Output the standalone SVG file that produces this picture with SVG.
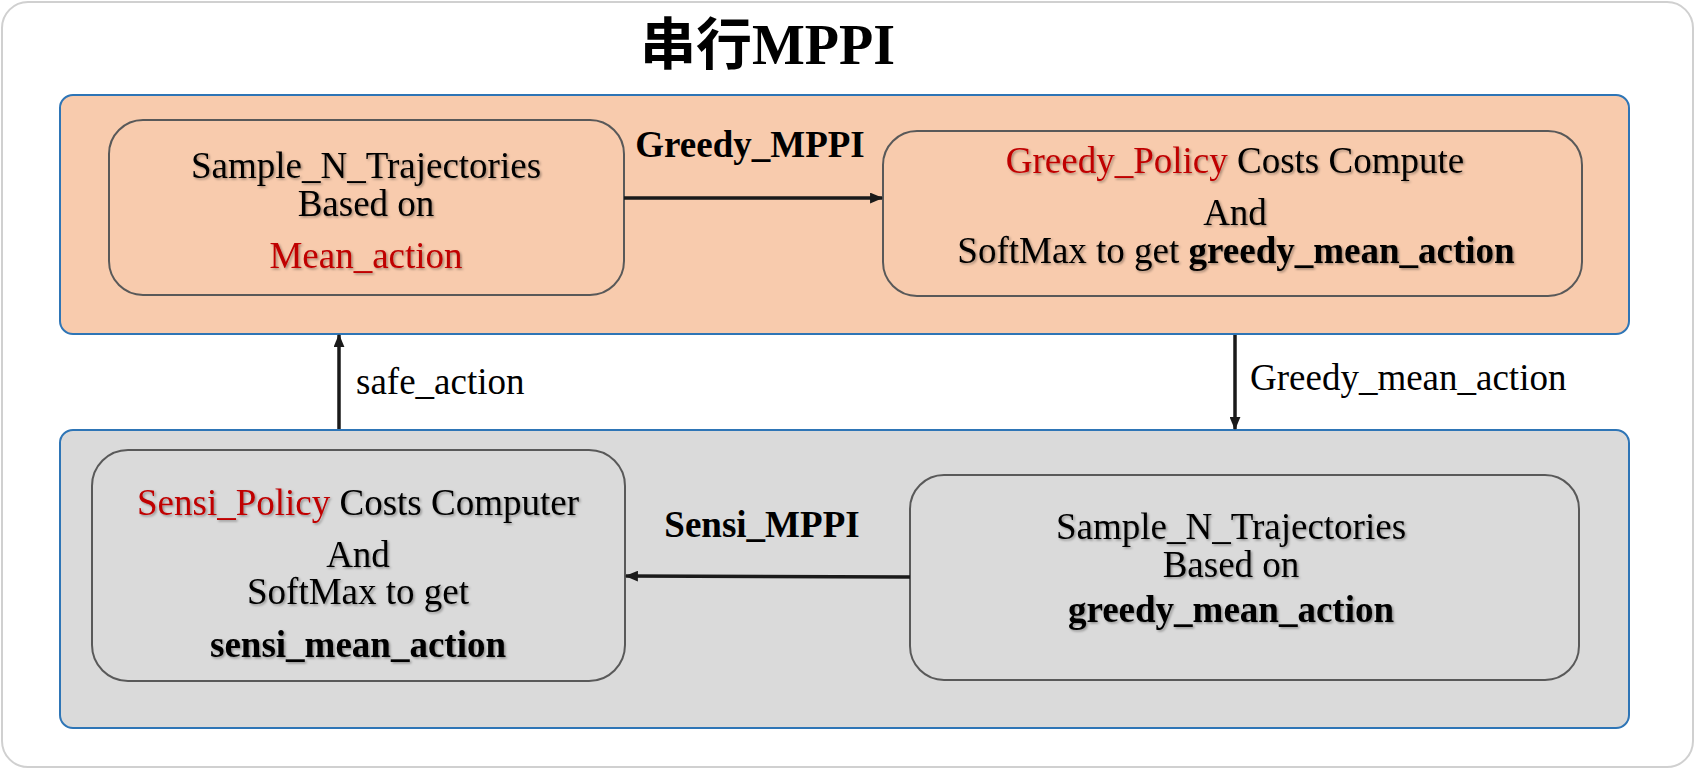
<svg xmlns="http://www.w3.org/2000/svg" width="1696" height="769" viewBox="0 0 1696 769">
<style>
.t{font-family:"Liberation Serif","Times New Roman",serif;font-size:37px;fill:#000;text-anchor:middle}
.b{font-weight:bold}
.r{fill:#c00000}
.lbl{font-family:"Liberation Serif","Times New Roman",serif;font-size:37px;fill:#000}
.node{stroke:#595959;stroke-width:2}
.cont{stroke:#2e75b6;stroke-width:2}
.conn{stroke:#1a1a1a;stroke-width:3.5;fill:none}
</style>
<defs>
<filter id="sh" x="-5%" y="-20%" width="110%" height="140%">
<feDropShadow dx="1.5" dy="1.5" stdDeviation="1" flood-color="#000" flood-opacity="0.35"/>
</filter>
<marker id="ah" viewBox="0 0 12 10" refX="11" refY="5" markerWidth="13" markerHeight="11" markerUnits="userSpaceOnUse" orient="auto">
<path d="M0,0 L12,5 L0,10 Z" fill="#1a1a1a"/>
</marker>
</defs>
<rect x="2" y="2" width="1691" height="765" rx="26" fill="#fff" stroke="#d0d0d0" stroke-width="2"/>
<text x="640" y="64" font-size="56" font-weight="bold" font-family="'Liberation Serif','Noto Sans CJK SC',serif"><tspan font-family="'Noto Sans CJK SC',sans-serif">串行</tspan>MPPI</text>
<g id="greedy-container">
<rect class="cont" x="60" y="95" width="1569" height="239" rx="13" fill="#f8cbad"/>
</g>
<g id="sensi-container">
<rect class="cont" x="60" y="430" width="1569" height="298" rx="13" fill="#dadada"/>
</g>
<g id="node-sample-mean">
<rect class="node" x="109" y="120" width="515" height="175" rx="34" fill="#f8cbad"/>
<g filter="url(#sh)">
<text class="t" x="366" y="178">Sample_N_Trajectories</text>
<text class="t" x="366" y="216">Based on</text>
<text class="t r" x="366" y="268">Mean_action</text>
</g>
</g>
<g id="node-greedy-policy">
<rect class="node" x="883" y="131" width="699" height="165" rx="34" fill="#f8cbad"/>
<g filter="url(#sh)">
<text class="t" x="1235" y="173"><tspan class="r">Greedy_Policy</tspan> Costs Compute</text>
<text class="t" x="1235" y="225">And</text>
<text class="t" x="1236" y="263">SoftMax to get <tspan class="b">greedy_mean_action</tspan></text>
</g>
</g>
<g id="node-sensi-policy">
<rect class="node" x="92" y="450" width="533" height="231" rx="36" fill="#dadada"/>
<g filter="url(#sh)">
<text class="t" x="358" y="515"><tspan class="r">Sensi_Policy</tspan> Costs Computer</text>
<text class="t" x="358" y="567">And</text>
<text class="t" x="358" y="604">SoftMax to get</text>
<text class="t b" x="358" y="657">sensi_mean_action</text>
</g>
</g>
<g id="node-sample-greedy">
<rect class="node" x="910" y="475" width="669" height="205" rx="34" fill="#dadada"/>
<g filter="url(#sh)">
<text class="t" x="1231" y="539">Sample_N_Trajectories</text>
<text class="t" x="1231" y="577">Based on</text>
<text class="t b" x="1231" y="622">greedy_mean_action</text>
</g>
</g>
<g id="connectors">
<line class="conn" x1="624" y1="198" x2="882" y2="198" marker-end="url(#ah)"/>
<line class="conn" x1="1235" y1="335" x2="1235" y2="429" marker-end="url(#ah)"/>
<line class="conn" x1="910" y1="577" x2="626" y2="576" marker-end="url(#ah)"/>
<line class="conn" x1="339" y1="429" x2="339" y2="335" marker-end="url(#ah)"/>
<text class="lbl b" x="750" y="157" text-anchor="middle">Greedy_MPPI</text>
<text class="lbl b" x="762" y="537" text-anchor="middle">Sensi_MPPI</text>
<text class="lbl" x="1250" y="390">Greedy_mean_action</text>
<text class="lbl" x="356" y="394">safe_action</text>
</g>
</svg>
